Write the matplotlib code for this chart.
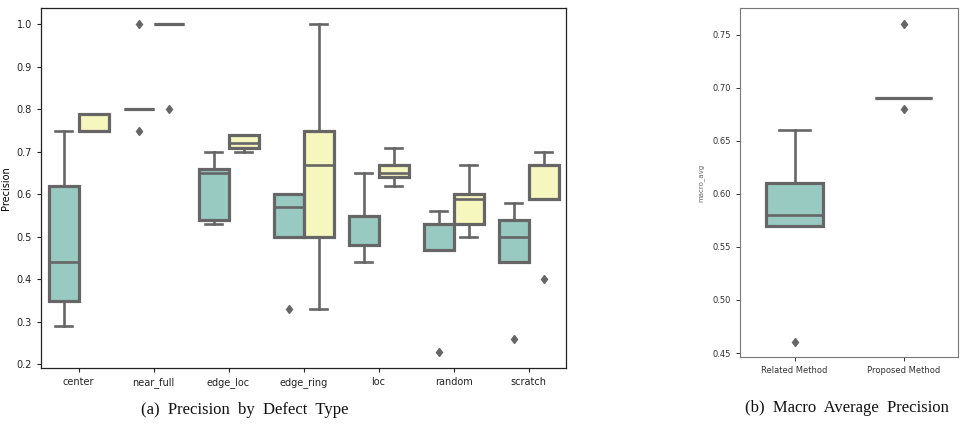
import matplotlib
matplotlib.use("Agg")
import matplotlib.pyplot as plt
import numpy as np

# ---- data (per-fold precision values) ----
defect_types = ["center", "near_full", "edge_loc", "edge_ring", "loc", "random", "scratch"]
related_vals = {
    "center":    [0.29, 0.35, 0.44, 0.62, 0.75],
    "near_full": [0.75, 0.80, 0.80, 0.80, 1.00],
    "edge_loc":  [0.53, 0.54, 0.65, 0.66, 0.70],
    "edge_ring": [0.33, 0.50, 0.57, 0.60, 0.60],
    "loc":       [0.44, 0.48, 0.55, 0.55, 0.65],
    "random":    [0.23, 0.47, 0.47, 0.53, 0.56],
    "scratch":   [0.26, 0.44, 0.50, 0.54, 0.58],
}
proposed_vals = {
    "center":    [0.75, 0.75, 0.75, 0.79, 0.79],
    "near_full": [0.80, 1.00, 1.00, 1.00, 1.00],
    "edge_loc":  [0.70, 0.71, 0.72, 0.74, 0.74],
    "edge_ring": [0.33, 0.50, 0.67, 0.75, 1.00],
    "loc":       [0.62, 0.64, 0.65, 0.67, 0.71],
    "random":    [0.50, 0.53, 0.59, 0.60, 0.67],
    "scratch":   [0.40, 0.59, 0.59, 0.67, 0.70],
}
methods = ["Related Method", "Proposed Method"]
macro_related = [0.46, 0.57, 0.58, 0.61, 0.66]
macro_proposed = [0.68, 0.69, 0.69, 0.69, 0.76]

TEAL = "#99cac1"
YELLOW = "#f6f6bf"
GRAY = "#666666"

fig = plt.figure(figsize=(9.72, 4.28), dpi=100)
ax1 = fig.add_axes([41/972, 1-368/428, 525/972, 360/428])
ax2 = fig.add_axes([740/972, 1-357/428, 218/972, 349/428])


def draw(ax, data, positions, width, color, capw):
    bp = ax.boxplot(data, positions=positions, widths=width, patch_artist=True,
                    whis=1.5, capwidths=capw, manage_ticks=False,
                    boxprops=dict(facecolor=color, edgecolor=GRAY, linewidth=2.3),
                    whiskerprops=dict(color=GRAY, linewidth=1.9),
                    capprops=dict(color=GRAY, linewidth=1.9),
                    medianprops=dict(color=GRAY, linewidth=1.9),
                    flierprops=dict(marker="d", markerfacecolor=GRAY,
                                    markeredgecolor=GRAY, markersize=4.5))
    return bp


x = np.arange(len(defect_types))
draw(ax1, [related_vals[k] for k in defect_types], x - 0.2, 0.4, TEAL, 0.23)
draw(ax1, [proposed_vals[k] for k in defect_types], x + 0.2, 0.4, YELLOW, 0.23)
ax1.set_xlim(-0.5, len(defect_types) - 0.5)
ax1.set_xticks(x)
ax1.set_xticklabels(defect_types)
ax1.set_ylim(0.1915, 1.0385)
ax1.set_yticks(np.arange(0.2, 1.01, 0.1))
ax1.set_yticklabels([f"{v:.1f}" for v in np.arange(0.2, 1.01, 0.1)])
ax1.tick_params(labelsize=7, length=3, width=0.8, colors="#222222")
ax1.set_ylabel("Precision", fontsize=7, labelpad=4)
for s in ax1.spines.values():
    s.set_linewidth(0.9)
    s.set_color("#222222")

draw(ax2, [macro_related], [0], 0.53, TEAL, 0.28)
draw(ax2, [macro_proposed], [1], 0.53, YELLOW, 0.28)
ax2.set_xlim(-0.5, 1.5)
ax2.set_xticks([0, 1])
ax2.set_xticklabels(methods, family=["Liberation Sans Narrow", "DejaVu Sans"])
ax2.set_ylim(0.4463, 0.775)
yt = [0.45, 0.50, 0.55, 0.60, 0.65, 0.70, 0.75]
ax2.set_yticks(yt)
ax2.set_yticklabels([f"{v:.2f}" for v in yt], family=["Liberation Sans Narrow", "DejaVu Sans"])
ax2.tick_params(labelsize=6, length=3, width=0.7, colors="#333333")
ax2.set_ylabel("macro_avg", fontsize=5, color="#666666", labelpad=6)
for s in ax2.spines.values():
    s.set_linewidth(0.8)
    s.set_color("#777777")

fig.text(245/972, 1-410/428, "(a)  Precision  by  Defect  Type", ha="center", va="center",
         family="Liberation Serif", fontsize=12, color="#111111")
fig.text(847/972, 1-408/428, "(b)  Macro  Average  Precision", ha="center", va="center",
         family="Liberation Serif", fontsize=12, color="#111111")

fig.savefig("out.png", dpi=100)
